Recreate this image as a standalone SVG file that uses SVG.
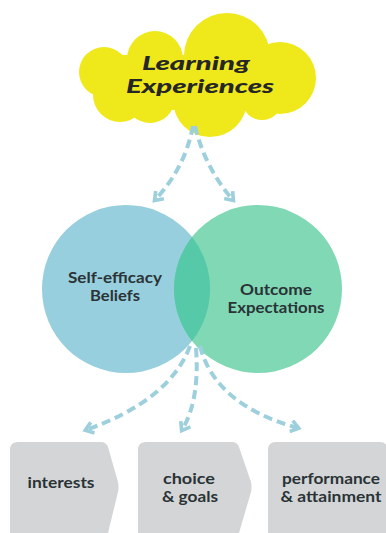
<svg xmlns="http://www.w3.org/2000/svg" width="386" height="533" viewBox="0 0 386 533">
<style>
.cloud{fill:#efe91c}
.lbl{font-family:Lato,"Open Sans","DejaVu Sans",sans-serif;font-weight:700;fill:#2a3335;text-anchor:middle;font-size:15.5px}
.cl{font-family:Lato,"DejaVu Sans",sans-serif;font-weight:900;font-style:italic;fill:#262626;text-anchor:middle;font-size:19px}
.box{fill:#d4d5d7}
.arr{fill:none;stroke:#9dcfdd;stroke-width:4;stroke-dasharray:9 5}
</style>
<defs>
<marker id="ah" viewBox="0 0 10 10" refX="7" refY="5" markerWidth="14" markerHeight="14" markerUnits="userSpaceOnUse" orient="auto">
<path d="M2,1 L7.5,5 L2,9" fill="none" stroke="#9dcfdd" stroke-width="2.6"/>
</marker>
</defs>
<rect width="386" height="533" fill="#ffffff"/>
<g id="learning-experiences">
<circle class="cloud" cx="104" cy="72" r="25"/>
<circle class="cloud" cx="120" cy="95" r="27"/>
<circle class="cloud" cx="155" cy="59" r="28"/>
<circle class="cloud" cx="227" cy="56" r="43"/>
<circle class="cloud" cx="150" cy="98" r="25"/>
<circle class="cloud" cx="210" cy="100" r="37"/>
<circle class="cloud" cx="280" cy="78" r="36"/>
<circle class="cloud" cx="262" cy="100" r="20"/>
<rect class="cloud" x="115" y="55" width="175" height="55"/>
<text class="cl" x="196" y="70" textLength="108" lengthAdjust="spacingAndGlyphs">Learning</text>
<text class="cl" x="200" y="93" textLength="148" lengthAdjust="spacingAndGlyphs">Experiences</text>
</g>
<g id="self-efficacy">
<circle cx="126" cy="289" r="84" fill="#98cfde"/>
<text class="lbl" x="115" y="283" textLength="94" lengthAdjust="spacingAndGlyphs">Self-efficacy</text>
<text class="lbl" x="115" y="301" textLength="50" lengthAdjust="spacingAndGlyphs">Beliefs</text>
</g>
<g id="outcome">
<circle cx="258" cy="289" r="84" fill="#80d8b5"/>
<path d="M192,237 A84,84 0 0 1 192,341 A84,84 0 0 1 192,237 Z" fill="#55c9a8"/>
<text class="lbl" x="276" y="295" textLength="72" lengthAdjust="spacingAndGlyphs">Outcome</text>
<text class="lbl" x="276" y="313" textLength="97" lengthAdjust="spacingAndGlyphs">Expectations</text>
</g>
<g id="connectors">
<path class="arr" d="M193,126 Q185,168 155,200" marker-end="url(#ah)"/>
<path class="arr" d="M195,126 Q205,168 233,200" marker-end="url(#ah)"/>
<path class="arr" d="M190,346 Q170,400 86,430" marker-end="url(#ah)"/>
<path class="arr" d="M196,348 Q200,400 182,430" marker-end="url(#ah)"/>
<path class="arr" d="M200,346 Q215,405 298,428" marker-end="url(#ah)"/>
</g>
<g id="interests">
<path class="box" d="M10,533 V450 Q10,442 18,442 H101 Q106,442 108,447 L118,482 Q119,487 118,492 L108,533 Z"/>
<text class="lbl" x="61" y="488" textLength="67" lengthAdjust="spacingAndGlyphs">interests</text>
</g>
<g id="choice-goals">
<path class="box" d="M138,533 V450 Q138,442 146,442 H232 Q237,442 239,447 L251,482 Q252,487 251,492 L239,533 Z"/>
<text class="lbl" x="189" y="484" textLength="52" lengthAdjust="spacingAndGlyphs">choice</text>
<text class="lbl" x="190" y="502" textLength="56" lengthAdjust="spacingAndGlyphs">&amp; goals</text>
</g>
<g id="performance">
<path class="box" d="M268,533 V450 Q268,442 276,442 H380 Q386,442 388,448 L400,490 L390,533 Z"/>
<text class="lbl" x="331" y="484" textLength="98" lengthAdjust="spacingAndGlyphs">performance</text>
<text class="lbl" x="331" y="502" textLength="101" lengthAdjust="spacingAndGlyphs">&amp; attainment</text>
</g>
</svg>
